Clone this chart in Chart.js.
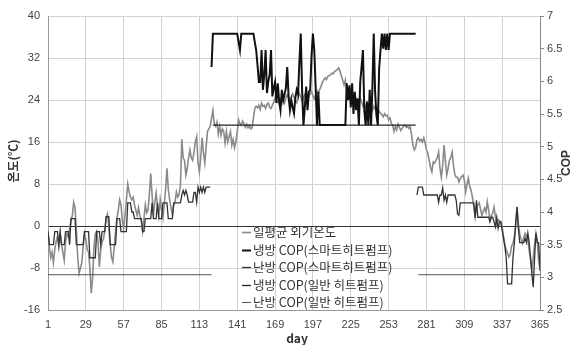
<!DOCTYPE html>
<html>
<head>
<meta charset="utf-8">
<script src="https://cdn.jsdelivr.net/npm/chart.js@4.4.1/dist/chart.umd.min.js"></script>
<style>
  html, body { margin: 0; padding: 0; background: #fff; }
  #wrap { width: 575px; height: 345px; position: relative; }
</style>
</head>
<body>
<div id="wrap"><canvas id="c" width="575" height="345"></canvas></div>
<script>
// Axis tick values
const dayTicks = [1, 29, 57, 85, 113, 141, 169, 197, 225, 253, 281, 309, 337, 365];
const tempTicks = [-16, -8, 0, 8, 16, 24, 32, 40];
const copTicks = [2.5, 3, 3.5, 4, 4.5, 5, 5.5, 6, 6.5, 7];

const seriesNames = [
  '일평균 외기온도',
  '냉방 COP(스마트히트펌프)',
  '난방 COP(스마트히트펌프)',
  '냉방 COP(일반 히트펌프)',
  '난방 COP(일반 히트펌프)'
];

// Daily mean outdoor temperature (°C), day 1 .. 365
const dailyTemp = [
  -1, -4, -6, -5, -7, -4.5, -3, -2, -4, -1.5,
  -3.5, -5, -6.5, -3, -1.5, -2, -0.5, 1, 2, 4.5,
  3.5, -1, -6, -9, -8, -7, -4, -1.5, -2.5, -4.5,
  -5, -8, -12.8, -10, -4, -1.5, -1, -3, -7.8, -4.5,
  -3, -2.5, -1, 1.5, 2.3, 0, -3.5, -6, -6.8, -4,
  -1, 1.5, 3, 5, 4, 1, -0.5, 2, 5, 8,
  6.5, 5.5, 5, 5.5, 4, 3, 2, 3.5, 2, 1,
  -1, 1.5, 4, 2.5, 3, 6, 10, 6, 2, 4.5,
  6.3, 4, 2, 5, 3, 1.5, 4, 7, 11, 7,
  5, 3.5, 2.1, 4, 4.6, 6.5, 5.5, 6, 7.8, 16.5,
  13, 12.5, 9.7, 11, 13, 14.5, 13, 12.5, 14, 16,
  17, 12, 10.3, 13, 16.8, 14, 12, 15, 18, 18.5,
  19, 20.5, 22, 19.5, 19, 19.8, 17.5, 19, 17.3, 18.5,
  18, 15.8, 18, 16, 17, 18, 15.4, 16.5, 14.9, 16,
  18, 20.2, 19.5, 19.2, 20, 19.5, 18.8, 19.4, 18.7, 19.2,
  18.5, 18.7, 20.6, 22.4, 22.8, 22.5, 23, 22.2, 23.4, 22.8,
  23, 22.4, 23.2, 23.4, 22.6, 22.4, 23, 23.6, 24.4, 23.8,
  23.6, 23.2, 24, 24.6, 24, 23.4, 24.5, 25, 24.2, 23.6,
  24.5, 25.2, 24.5, 24, 23.5, 24.5, 25.3, 24.6, 23.8, 24.4,
  25, 24.5, 23.8, 24.6, 25.2, 25.6, 24.8, 24.2, 25, 25.8,
  25.2, 26, 26.6, 27.4, 27.8, 28.2, 27.9, 28.5, 28.6, 28.8,
  29.1, 29, 29.4, 29.6, 29.8, 30.1, 29.5, 28.6, 27.8, 26.9,
  27.8, 25.6, 24.4, 25, 24.2, 24.8, 23.8, 24.6, 23.4, 24,
  23.2, 24.4, 23.6, 22.8, 23.4, 22.6, 23.2, 22.4, 23, 22.6,
  22, 22.8, 22.2, 21.8, 22.4, 21.8, 21.5, 21.2, 20.8, 21.4,
  21, 21.1, 20.2, 20.6, 19.6, 19.2, 18, 19, 18.3, 19.4,
  18.8, 18.2, 18.6, 19, 19.2, 18.8, 19, 18.6, 18.9, 17.3,
  15.4, 14.5, 15, 16.4, 16.8, 16.2, 16.5, 16, 16.8, 15.8,
  14.5, 13.9, 12.5, 11.2, 10.3, 12.2, 12, 12.5, 13, 14.1,
  11, 9.3, 11.5, 15.4, 12.5, 9.7, 11, 12.5, 13.1, 14.1,
  11.5, 9.8, 9.3, 9.3, 8.4, 9, 9.4, 9.7, 8.8, 6.5,
  8, 9.1, 7.5, 6.8, 5.5, 3.8, 1.7, 3.5, 4, 4.4,
  3.2, 2, 2.8, 3.4, 2.6, 4.6, 3, 1.1, 2, 2.5,
  3.6, 1.8, 0.2, 1.2, 1, 0.8, -0.2, -2, -3.5, -4.5,
  -5.2, -5.9, -5.4, -3.8, -3.3, -2, -0.2, 3.6, 0.5, -1.5,
  -2.5, -3.3, -2.2, -1.4, -1.8, -2.5, -4.6, -6.5, -8.4, -6,
  -3.5, -1.4, -3, -6.5, -8
];

// Smart heat pump, heating COP: days 1 .. 121
const heatSmartSpringStart = 1;
const heatSmartSpring = [
  3.7, 3.5, 3.5, 3.5, 3.5, 3.7, 3.7, 3.7, 3.5, 3.7,
  3.5, 3.5, 3.5, 3.7, 3.7, 3.7, 3.5, 3.9, 3.9, 3.9,
  3.9, 3.5, 3.5, 3.5, 3.5, 3.5, 3.5, 3.7, 3.7, 3.7,
  3.7, 3.3, 3.3, 3.3, 3.3, 3.3, 3.7, 3.7, 3.7, 3.5,
  3.7, 3.7, 3.7, 3.93, 3.93, 3.93, 3.5, 3.5, 3.5, 3.5,
  3.5, 3.9, 3.9, 3.9, 3.7, 3.7, 3.7, 3.7, 3.7, 4.14,
  4.14, 4.14, 4.0, 4.0, 3.9, 3.9, 3.9, 3.9, 3.9, 3.9,
  3.7, 3.7, 3.9, 3.9, 3.9, 3.9, 3.9, 4.14, 3.9, 3.9,
  3.9, 4.14, 3.9, 3.9, 3.9, 4.14, 4.14, 4.14, 4.14, 3.9,
  3.9, 3.9, 3.9, 4.14, 4.14, 4.14, 4.14, 4.14, 4.14, 4.26,
  4.33, 4.26, 4.33, 4.26, 4.15, 4.15, 4.15, 4.15, 4.3, 4.3,
  4.15, 4.38, 4.3, 4.38, 4.3, 4.38, 4.3, 4.38, 4.38, 4.38,
  4.38
];

// Smart heat pump, heating COP: days 274 .. 365
const heatSmartAutumnStart = 274;
const heatSmartAutumn = [
  4.26, 4.38, 4.38, 4.38, 4.38, 4.26, 4.26,
  4.26, 4.26, 4.26, 4.26, 4.26, 4.26, 4.26, 4.26, 4.26, 4.15,
  4.26, 4.26, 4.37, 4.18, 4.26, 4.15, 4.26, 4.26, 4.26, 4.26,
  4.26, 4.26, 4.18, 3.97, 3.95, 4.14, 4.14, 4.14, 4.14, 4.14,
  4.14, 4.14, 4.14, 4.14, 4.14, 4.14, 3.91, 4.18, 3.92, 3.92,
  3.92, 3.92, 3.92, 3.92, 3.92, 3.92, 3.92, 3.85, 3.92, 3.92,
  3.85, 3.77, 3.92, 3.75, 3.85, 3.85, 3.72, 3.6, 3.47, 3.3,
  2.9, 2.9, 2.9, 2.9, 3.3, 3.52, 3.83, 4.08, 3.75, 3.53,
  3.53, 3.53, 3.53, 3.6, 3.53, 3.68, 3.53, 3.31, 3.05, 2.85,
  3.3, 3.68, 3.53, 3.53, 3.1
];

// Smart heat pump, cooling COP: days 122 .. 273
const coolSmartStart = 122;
const coolSmart = [
  6.22, 6.73, 6.73, 6.73, 6.73, 6.73, 6.73, 6.73, 6.73,
  6.73, 6.73, 6.73, 6.73, 6.73, 6.73, 6.73, 6.73, 6.73, 6.73,
  6.73, 6.6, 6.48, 6.73, 6.73, 6.73, 6.73, 6.73, 6.73, 6.73,
  6.73, 6.73, 6.73, 6.6, 6.48, 6.25, 5.99, 5.99, 6.48, 5.87,
  6.1, 6.48, 5.82, 6.0, 6.1, 6.48, 5.77, 5.9, 5.99, 5.67,
  5.97, 5.7, 5.56, 5.87, 5.71, 5.8, 5.9, 6.22, 5.77, 5.56,
  5.71, 5.6, 5.51, 5.75, 5.87, 5.8, 6.3, 6.73, 5.87, 5.33,
  5.6, 5.92, 5.56, 5.84, 5.87, 6.4, 6.73, 6.48, 5.92, 5.33,
  5.84, 5.33, 5.33, 5.33, 5.33, 5.33, 5.33, 5.33, 5.33, 5.33,
  5.33, 5.33, 5.33, 5.33, 5.33, 5.33, 5.33, 5.33, 5.33, 5.33,
  5.33, 5.97, 5.71, 5.94, 5.6, 5.97, 5.5, 5.84, 5.56, 5.74,
  5.33, 5.99, 6.22, 6.48, 5.56, 5.33, 5.69, 5.33, 5.87, 5.33,
  5.9, 6.73, 5.84, 5.48, 5.33, 6.2, 6.48, 6.73, 6.5, 6.73,
  6.48, 6.73, 6.48, 6.73, 6.73, 6.73, 6.73, 6.73, 6.73, 6.73,
  6.73, 6.73, 6.73, 6.73, 6.73, 6.73, 6.73, 6.73, 6.73, 6.73,
  6.73, 6.73, 6.73
];

// Conventional heat pump: constant COP over each season
const coolBaseCOP = 5.33;
const coolBaseDays = [123, 273];
const heatBaseCOP = 3.04;
const heatBaseDays = [[1, 122], [275, 365]];

// ---- build {x, y} point lists ----
const toPoints = (vals, start) => vals.map((v, i) => ({ x: start + i, y: v }));
const tempPts = toPoints(dailyTemp, 1);
const coolSmartPts = toPoints(coolSmart, coolSmartStart);
const heatSmartPts = toPoints(heatSmartSpring, heatSmartSpringStart)
  .concat([{ x: heatSmartSpringStart + heatSmartSpring.length, y: null }])
  .concat(toPoints(heatSmartAutumn, heatSmartAutumnStart));
const coolBasePts = coolBaseDays.map(d => ({ x: d, y: coolBaseCOP }));
const heatBasePts = [];
heatBaseDays.forEach((seg, k) => {
  if (k > 0) heatBasePts.push({ x: seg[0] - 1, y: null });
  heatBasePts.push({ x: seg[0], y: heatBaseCOP }, { x: seg[1], y: heatBaseCOP });
});

const lineStyles = [
  { color: '#8a8a8a', width: 1.6, order: 5 },
  { color: '#111111', width: 2, order: 1 },
  { color: '#333333', width: 1.3, order: 2 },
  { color: '#222222', width: 1.3, order: 3 },
  { color: '#555555', width: 1, order: 4 }
];
const pointSets = [tempPts, coolSmartPts, heatSmartPts, coolBasePts, heatBasePts];
const axisFor = ['yT', 'yC', 'yC', 'yC', 'yC'];

const datasets = seriesNames.map((name, i) => ({
  label: name,
  data: pointSets[i],
  yAxisID: axisFor[i],
  borderColor: lineStyles[i].color,
  backgroundColor: lineStyles[i].color,
  borderWidth: lineStyles[i].width,
  order: lineStyles[i].order,
  pointRadius: 0,
  tension: 0,
  spanGaps: false,
  fill: false
}));

const tickFont = { family: '"Liberation Sans", Arial, sans-serif', size: 11 };
const titleFont = '"Noto Sans CJK KR", sans-serif';

// Legend drawn inside the plot area, plus axis titles
const annotate = {
  id: 'annotate',
  afterDatasetsDraw(chart) {
    const ctx = chart.ctx;
    ctx.save();
    // legend
    ctx.font = '12.5px ' + titleFont;
    ctx.textBaseline = 'middle';
    ctx.textAlign = 'left';
    const x0 = 242, y0 = 232, row = 17.5;
    chart.data.datasets.forEach((ds, i) => {
      const y = y0 + i * row;
      ctx.strokeStyle = ds.borderColor;
      ctx.lineWidth = Math.max(1, ds.borderWidth);
      ctx.beginPath();
      ctx.moveTo(x0, Math.round(y) + 0.5);
      ctx.lineTo(x0 + 9, Math.round(y) + 0.5);
      ctx.stroke();
      ctx.fillStyle = '#333';
      ctx.fillText(ds.label, x0 + 11, y + 0.5);
    });
    // axis titles
    ctx.fillStyle = '#333';
    ctx.font = 'bold 12px ' + titleFont;
    ctx.textAlign = 'center';
    ctx.fillText('day', 297, 338);
    ctx.save();
    ctx.translate(13, 161);
    ctx.rotate(-Math.PI / 2);
    ctx.fillText('온도(℃)', 0, 0);
    ctx.restore();
    ctx.save();
    ctx.translate(567, 163);
    ctx.rotate(-Math.PI / 2);
    ctx.font = 'bold 12px "Liberation Sans", Arial, sans-serif';
    ctx.fillText('COP', 0, 0);
    ctx.restore();
    ctx.restore();
  }
};

new Chart(document.getElementById('c'), {
  type: 'line',
  data: { datasets },
  plugins: [annotate],
  options: {
    responsive: false,
    animation: false,
    devicePixelRatio: 1,
    layout: { padding: { top: 16, left: 0, right: 0, bottom: 0 } },
    plugins: { legend: { display: false }, tooltip: { enabled: false }, title: { display: false } },
    scales: {
      x: {
        type: 'linear',
        min: dayTicks[0],
        max: dayTicks[dayTicks.length - 1],
        afterBuildTicks: s => { s.ticks = dayTicks.map(v => ({ value: v })); },
        afterFit: s => { s.height = 35; },
        grid: { color: '#d2d2d2', lineWidth: 1, drawTicks: false },
        border: { color: '#999' },
        ticks: { font: tickFont, color: '#444', padding: 8, maxRotation: 0, autoSkip: false }
      },
      yT: {
        type: 'linear',
        position: 'left',
        min: tempTicks[0],
        max: tempTicks[tempTicks.length - 1],
        afterBuildTicks: s => { s.ticks = tempTicks.map(v => ({ value: v })); },
        afterFit: s => { s.width = 48; },
        grid: {
          color: c => (c.tick && c.tick.value === 0 ? '#333' : '#d2d2d2'),
          lineWidth: 1,
          drawTicks: false
        },
        border: { color: '#999' },
        ticks: { font: tickFont, color: '#444', padding: 8 }
      },
      yC: {
        type: 'linear',
        position: 'right',
        min: copTicks[0],
        max: copTicks[copTicks.length - 1],
        afterBuildTicks: s => { s.ticks = copTicks.map(v => ({ value: v })); },
        afterFit: s => { s.width = 35; },
        grid: { drawOnChartArea: false, drawTicks: true, tickLength: 4, color: '#888' },
        border: { color: '#888' },
        ticks: { font: tickFont, color: '#444', padding: 3, callback: v => String(v) }
      }
    }
  }
});
</script>
</body>
</html>
